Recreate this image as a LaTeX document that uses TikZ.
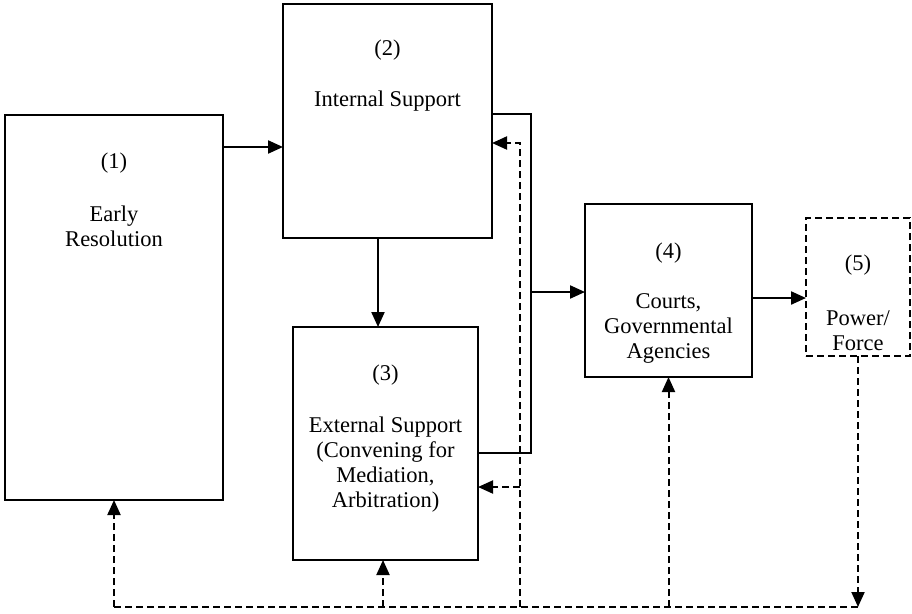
\documentclass[tikz,border=0pt]{standalone}
\usepackage{fontspec}
\setmainfont{Liberation Serif}
\usetikzlibrary{arrows.meta}
\tikzset{
	box/.style = {draw, line width=2.2pt, inner sep=0pt, outer sep=0pt},
	dbox/.style = {draw, line width=2pt, dash pattern=on 7pt off 4pt, inner sep=0pt, outer sep=0pt},
	txt/.style = {align=center, font=\fontsize{22.5}{25}\selectfont},
	conn/.style = {line width=2.2pt},
	arr/.style = {conn, -{Triangle[length=15pt,width=13pt]}},
	dconn/.style = {line width=2pt, dash pattern=on 7pt off 4pt},
	darr/.style = {dconn, -{Triangle[length=15pt,width=13pt]}}
}
\begin{document}
\begin{tikzpicture}[x=1pt, y=-1pt]
	\useasboundingbox (0, 0) rectangle (912, 613);
	% the five boxes
	\node[box, minimum width=218pt, minimum height=385pt] at (114, 307.5)   (a) {};
	\node[box, minimum width=209pt, minimum height=234pt] at (387.5, 121)   (b) {};
	\node[box, minimum width=185pt, minimum height=233pt] at (385.5, 443.5) (c) {};
	\node[box, minimum width=167pt, minimum height=173pt] at (668.5, 290.5) (d) {};
	\node[dbox, minimum width=104pt, minimum height=138pt] at (858, 287)    (e) {};
	
	\node[txt] at (114, 163)     (na) {(1)};
	\node[txt] at (114, 226.5)   (ta) {Early\\Resolution};
	\node[txt] at (387.5, 50)    (nb) {(2)};
	\node[txt] at (387.5, 101)   (tb) {Internal Support};
	\node[txt] at (385.5, 375)   (nc) {(3)};
	\node[txt] at (385.5, 464.5) (tc) {External Support\\(Convening for\\Mediation,\\Arbitration)};
	\node[txt] at (668.5, 253)   (nd) {(4)};
	\node[txt] at (668.5, 328)   (td) {Courts,\\Governmental\\Agencies};
	\node[txt] at (858, 265)     (ne) {(5)};
	\node[txt] at (858, 330.5)   (te) {Power/\\Force};
	
	% bends of the connectors
	\coordinate (k) at (250, 147);
	\coordinate (ja) at (531, 114);
	\coordinate (jb) at (531, 453);
	\coordinate (jc) at (531, 292);
	\coordinate (da) at (520, 143);
	\coordinate (db) at (520, 487);
	\coordinate (dl) at (112, 607);
	
	% solid connectors
	\draw[arr] (a.east |- k) -- (b.west |- k);
	\draw[arr] ([xshift=-9.5pt]b.south) -- ([xshift=-9.5pt]b.south |- c.north);
	\draw[conn] (b.east |- ja) -- (ja) -- (jb) -- (c.east |- jb);
	\draw[arr] (jc) -- (d.west |- jc);
	\draw[arr] ([yshift=-7.5pt]d.east) -- ([yshift=-7.5pt]d.east -| e.west);
	
	% dashed connectors
	\draw[dconn] (a.south |- dl) -- (e.south |- dl);
	\draw[darr] (a.south |- dl) -- (a.south);
	\draw[darr] ([xshift=-2.5pt]c.south |- dl) -- ([xshift=-2.5pt]c.south);
	\draw[darr] (da |- dl) -- (da) -- (b.east |- da);
	\draw[darr] (db) -- (c.east |- db);
	\draw[darr] (d.south |- dl) -- (d.south);
	\draw[darr] (e.south) -- (e.south |- dl);
\end{tikzpicture}
\end{document}
